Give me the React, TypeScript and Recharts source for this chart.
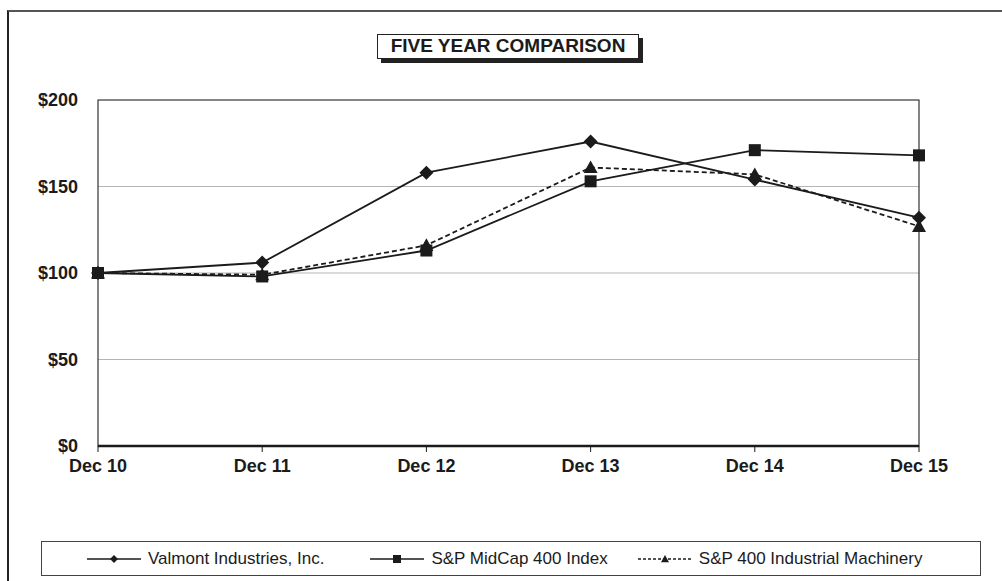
import React from 'react';
import {
  LineChart,
  Line,
  XAxis,
  YAxis,
  CartesianGrid,
  ReferenceArea,
} from 'recharts';

const years = ['Dec 10', 'Dec 11', 'Dec 12', 'Dec 13', 'Dec 14', 'Dec 15'];
const valmont = [100, 106, 158, 176, 154, 132];
const midcap = [100, 98, 113, 153, 171, 168];
const machinery = [100, 99, 116, 161, 157, 127];
const yTicks = [0, 50, 100, 150, 200];

const data = years.map((year, i) => ({
  year,
  valmont: valmont[i],
  midcap: midcap[i],
  machinery: machinery[i],
}));

const INK = '#1b1b1b';
const FONT = 'Arial, "Liberation Sans", Helvetica, sans-serif';

function Diamond({ cx, cy, size = 7 }: any) {
  if (cx == null || cy == null) return null;
  return (
    <path
      d={`M${cx},${cy - size} L${cx + size},${cy} L${cx},${cy + size} L${cx - size},${cy} Z`}
      fill={INK}
    />
  );
}

function Square({ cx, cy, size = 6 }: any) {
  if (cx == null || cy == null) return null;
  return <rect x={cx - size} y={cy - size} width={size * 2} height={size * 2} fill={INK} />;
}

function Triangle({ cx, cy, size = 7 }: any) {
  if (cx == null || cy == null) return null;
  return (
    <path
      d={`M${cx},${cy - size} L${cx + size},${cy + size * 0.8} L${cx - size},${cy + size * 0.8} Z`}
      fill={INK}
    />
  );
}

const legendItems = [
  { label: 'Valmont Industries, Inc.', dash: undefined, Marker: Diamond, size: 4, gap: 46 },
  { label: 'S&P MidCap 400 Index', dash: undefined, Marker: Square, size: 4, gap: 30 },
  { label: 'S&P 400 Industrial Machinery', dash: '3 2', Marker: Triangle, size: 4, gap: 0 },
];

function LegendBox() {
  return (
    <div
      style={{
        position: 'absolute',
        left: 41,
        top: 541,
        boxSizing: 'border-box',
        width: 940,
        height: 35,
        border: '1.5px solid #444',
        display: 'flex',
        alignItems: 'center',
        paddingLeft: 45,
        fontFamily: FONT,
        fontSize: 17,
        color: INK,
        background: '#fff',
      }}
    >
      {legendItems.map((it) => (
        <div key={it.label} style={{ display: 'flex', alignItems: 'center', marginRight: it.gap }}>
          <svg width={54} height={12} style={{ marginRight: 7 }}>
            <line x1={0} y1={6} x2={54} y2={6} stroke={INK} strokeWidth={1.6} strokeDasharray={it.dash} />
            <it.Marker cx={27} cy={6} size={it.size} />
          </svg>
          <span>{it.label}</span>
        </div>
      ))}
    </div>
  );
}

export default function App() {
  return (
    <div style={{ position: 'absolute', left: 0, top: 0, width: 1002, height: 581, background: '#fff', overflow: 'hidden' }}>
      <div
        style={{
          position: 'absolute',
          left: 7,
          top: 10,
          width: 995,
          height: 571,
          borderTop: '2px solid #555',
          borderLeft: '2px solid #222',
          boxSizing: 'border-box',
        }}
      />
      <LineChart
        width={1002}
        height={581}
        data={data}
        margin={{ top: 100, right: 83, bottom: 105, left: 8 }}
        style={{ position: 'absolute', left: 0, top: 0 }}
      >
        <CartesianGrid vertical={false} stroke="#b5b5b5" strokeWidth={1.2} />
        <ReferenceArea
          x1="Dec 10"
          x2="Dec 15"
          y1={0}
          y2={200}
          fill="none"
          stroke="#333"
          strokeWidth={1.2}
          fillOpacity={0}
        />
        <XAxis
          dataKey="year"
          axisLine={{ stroke: INK, strokeWidth: 2.5 }}
          tickLine={{ stroke: INK, strokeWidth: 1 }}
          tickSize={6}
          height={30}
          tick={{ fill: INK, fontFamily: FONT, fontWeight: 'bold', fontSize: 18 }}
          tickMargin={7}
          interval={0}
        />
        <YAxis
          domain={[0, 200]}
          ticks={yTicks}
          width={90}
          axisLine={false}
          tickLine={false}
          tickMargin={14}
          tickFormatter={(v: number) => `$${v}`}
          tick={{ fill: INK, fontFamily: FONT, fontWeight: 'bold', fontSize: 18 }}
        />
        <Line
          dataKey="machinery"
          stroke={INK}
          strokeWidth={1.8}
          strokeDasharray="5 3"
          dot={(p: any) => <Triangle key={p.index} cx={p.cx} cy={p.cy} />}
          isAnimationActive={false}
        />
        <Line
          dataKey="midcap"
          stroke={INK}
          strokeWidth={1.8}
          dot={(p: any) => <Square key={p.index} cx={p.cx} cy={p.cy} />}
          isAnimationActive={false}
        />
        <Line
          dataKey="valmont"
          stroke={INK}
          strokeWidth={1.8}
          dot={(p: any) => <Diamond key={p.index} cx={p.cx} cy={p.cy} />}
          isAnimationActive={false}
        />
      </LineChart>
      <div
        style={{
          position: 'absolute',
          left: 377,
          top: 34,
          width: 262,
          height: 25,
          boxSizing: 'border-box',
          border: '1.5px solid #222',
          boxShadow: '4px 4px 0 #222',
          background: '#fff',
          fontFamily: FONT,
          fontWeight: 'bold',
          fontSize: 19,
          lineHeight: '22px',
          textAlign: 'center',
          whiteSpace: 'nowrap',
          color: INK,
        }}
      >
        FIVE YEAR COMPARISON
      </div>
      <LegendBox />
    </div>
  );
}
